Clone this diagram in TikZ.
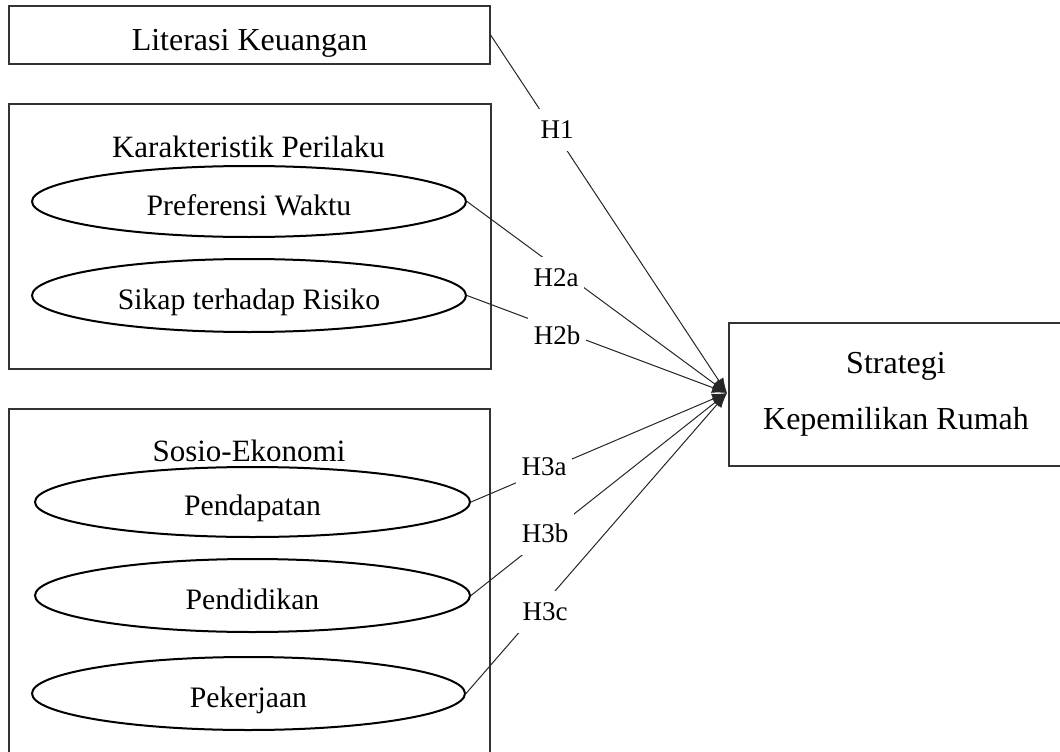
\documentclass[tikz,border=0pt]{standalone}
\usepackage{fontspec}
\setmainfont{Liberation Serif}
\usetikzlibrary{shapes.geometric,arrows.meta}
\begin{document}
\begin{tikzpicture}[x=1pt,y=-1pt,
 box/.style={draw=black!80, line width=1.2pt, rectangle, inner sep=0pt, font=\fontsize{32}{38}\selectfont},
 grp/.style={draw=black!80, line width=1.2pt, rectangle, inner sep=0pt},
 oval/.style={draw=black, line width=2pt, ellipse, inner sep=0pt, minimum width=434pt, minimum height=71pt, font=\fontsize{29.7}{34}\selectfont, text height=27pt, text depth=0pt},
 ttl/.style={anchor=base, inner sep=0pt, font=\fontsize{31}{36}\selectfont},
 hyp/.style={fill=white, inner xsep=6pt, inner ysep=12pt, font=\fontsize{27}{32}\selectfont},
 link/.style={draw=black!85, line width=1pt, -{Latex[length=15pt,width=11pt]}}
]
\useasboundingbox (0,0) rectangle (1060,752);
\clip (0,0) rectangle (1060,752);

\node[box, minimum width=481pt, minimum height=58pt, text height=32pt, text depth=0pt] (lit) at (249.5,35) {Literasi Keuangan};

\node[grp, minimum width=482pt, minimum height=265pt] (kp) at (250,236.5) {};
\node[ttl] (kpt) at (248.5,157) {Karakteristik Perilaku};
\node[oval] (pw) at (249,201.5) {Preferensi Waktu};
\node[oval, minimum height=73pt] (sr) at (249,295.5) {Sikap terhadap Risiko};

\node[grp, minimum width=481pt, minimum height=348pt] (se) at (249.5,583) {};
\node[ttl] (set) at (249,461) {Sosio-Ekonomi};
\node[oval, minimum width=435pt, minimum height=70pt] (pd) at (252.5,502) {Pendapatan};
\node[oval, minimum width=435pt, minimum height=73pt] (pdk) at (252.5,595.5) {Pendidikan};
\node[oval, minimum width=433pt, minimum height=73pt] (pk) at (248.5,693.5) {Pekerjaan};

\node[box, minimum width=334pt, minimum height=143pt, align=center, font=\fontsize{32}{56}\selectfont] (st) at (896,394.5) {Strategi\\Kepemilikan Rumah};

\coordinate (T) at (727,393);

\draw[link] (lit.east) -- (T);
\draw[link] (pw.east) -- (T);
\draw[link] (sr.east) -- (T);
\draw[link] (pd.east) -- (T);
\draw[link] (pdk.east) -- (T);
\draw[link] (pk.east) -- (T);

\node[hyp] (h1) at (557,130) {H1};
\node[hyp] (h2a) at (556,278) {H2a};
\node[hyp] (h2b) at (557,335) {H2b};
\node[hyp] (h3a) at (544,467) {H3a};
\node[hyp] (h3b) at (545,533) {H3b};
\node[hyp] (h3c) at (545,612) {H3c};
\end{tikzpicture}
\end{document}
